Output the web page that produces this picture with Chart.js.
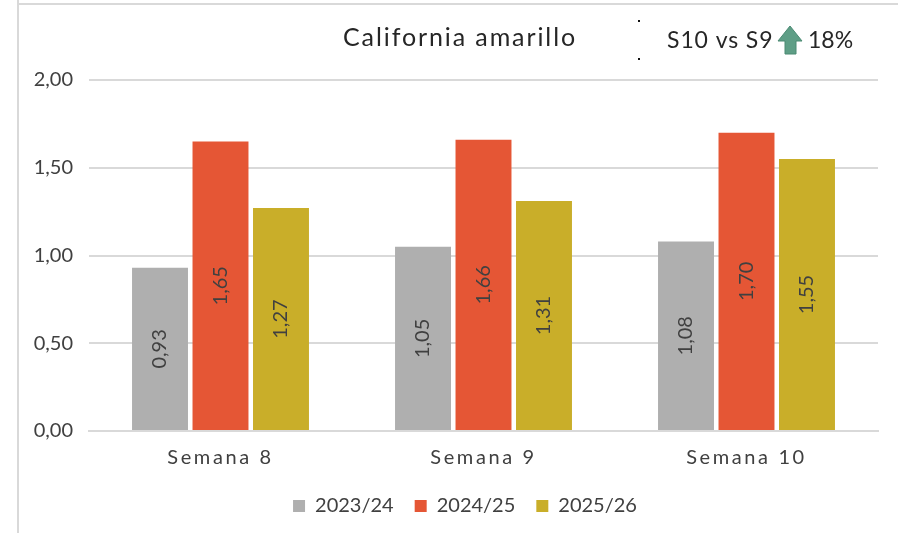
<!DOCTYPE html>
<html><head><meta charset="utf-8">
<style>
html,body{margin:0;padding:0;background:#fff;width:898px;height:533px;overflow:hidden}
#wrap{position:absolute;left:0;top:0;width:898px;height:533px}
canvas{position:absolute;left:0;top:0}
</style>
<script src="https://cdn.jsdelivr.net/npm/chart.js@4"></script>
</head><body>
<div id="wrap"><canvas id="c" width="898" height="533"></canvas></div>
<script>
const categories=["Semana 8","Semana 9","Semana 10"];
const seriesNames=["2023/24","2024/25","2025/26"];
const values2324=[0.93,1.05,1.08];
const values2425=[1.65,1.66,1.70];
const values2526=[1.27,1.31,1.55];
const colors=["#AFAFAF","#E55635","#C9AE29"];
const titleText="California amarillo";
const noteLeft="S10 vs S9";
const noteRight="18%";
const FONT='Lato, "Noto Sans", sans-serif';
const TXT="#404040";
const fmt=v=>v.toFixed(2).replace(".",",");

const overlay={id:"overlay",
 beforeDraw(ch){
  const x=ch.scales.x;
  ch.scales.y.left=0;
  if(!x._spaced){
    x._spaced=true;
    const orig=x.drawLabels;
    x.drawLabels=function(a){ch.ctx.save();ch.ctx.letterSpacing="2.6px";orig.call(this,a);ch.ctx.restore();};
  }
 },
 afterDatasetsDraw(ch){
  const g=ch.ctx;
  g.save();
  g.fillStyle=TXT;g.textAlign="center";g.textBaseline="middle";g.font="20px "+FONT;
  ch.data.datasets.forEach((ds,i)=>{
    ch.getDatasetMeta(i).data.forEach((b,j)=>{
      const yMid=(b.y+b.base)/2;
      g.save();g.translate(b.x,yMid);g.rotate(-Math.PI/2);
      g.fillText(fmt(ds.data[j]),0,0);g.restore();
    });
  });
  g.restore();
 },
 afterDraw(ch){
  const g=ch.ctx;
  g.save();
  g.fillStyle="#D9D9D9";
  g.fillRect(17,0,2,533);
  g.fillRect(17,3,881,2);
  g.fillStyle="#262626";g.textBaseline="middle";g.textAlign="left";
  g.font="25px "+FONT;g.letterSpacing="1.9px";
  g.fillText(titleText,343,38);
  g.font="23px "+FONT;g.letterSpacing="0.9px";
  g.fillText(noteLeft,667,41);
  g.letterSpacing="0px";
  g.fillText(noteRight,808,41);
  g.fillStyle="#111";
  g.fillRect(638,20,2,2);g.fillRect(638,58,2,2);
  g.fillStyle="#5E9E86";g.strokeStyle="#4A8A73";g.lineWidth=1;
  g.beginPath();
  g.moveTo(790,26);g.lineTo(802,41);g.lineTo(796,41);g.lineTo(796,54);g.lineTo(785,54);g.lineTo(785,41);g.lineTo(778,41);g.closePath();
  g.fill();g.stroke();
  g.restore();
 }};

new Chart(document.getElementById("c"),{
 type:"bar",
 data:{labels:categories,datasets:[
  {label:seriesNames[0],data:values2324,backgroundColor:colors[0]},
  {label:seriesNames[1],data:values2425,backgroundColor:colors[1]},
  {label:seriesNames[2],data:values2526,backgroundColor:colors[2]}
 ]},
 options:{responsive:false,animation:false,devicePixelRatio:1,
  layout:{padding:{left:52,right:20,top:80,bottom:7}},
  datasets:{bar:{categoryPercentage:0.69,barPercentage:0.925}},
  scales:{
   x:{afterFit(s){s.height=44},grid:{display:false,drawTicks:false},border:{color:"#D9D9D9",width:2},
      ticks:{color:TXT,font:{family:FONT,size:20},padding:15,maxRotation:0}},
   y:{min:0,max:2,afterFit(s){s.width=37},
      grid:{color:"#D9D9D9",lineWidth:2,drawTicks:false},border:{display:false},
      ticks:{stepSize:0.5,color:TXT,font:{family:FONT,size:20},padding:16,callback:v=>fmt(v)}}
  },
  plugins:{title:{display:false},tooltip:{enabled:false},
   legend:{position:"bottom",labels:{color:TXT,font:{family:FONT,size:20},boxWidth:12,boxHeight:12,padding:21}}}
 },
 plugins:[overlay]
});
</script>
</body></html>
